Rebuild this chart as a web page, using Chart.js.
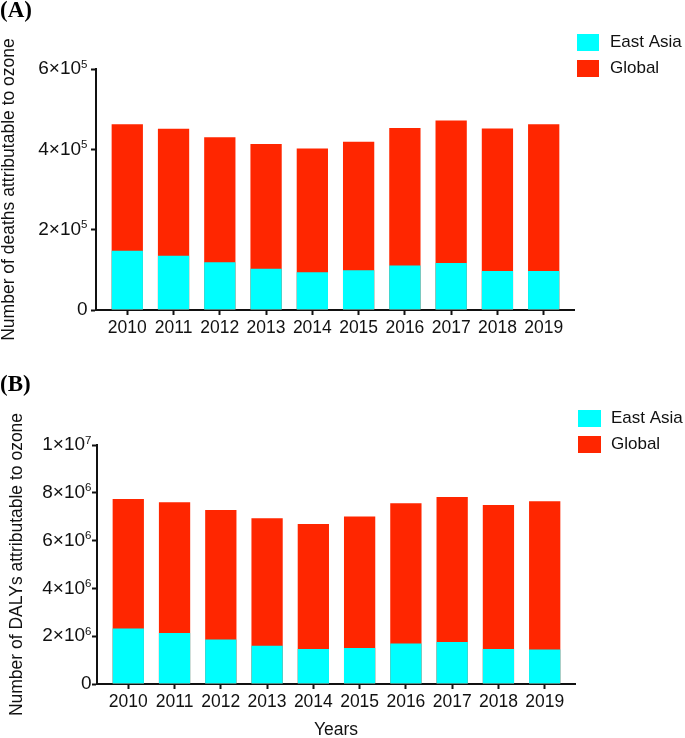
<!DOCTYPE html>
<html>
<head>
<meta charset="utf-8">
<script src="https://cdn.jsdelivr.net/npm/chart.js@4.4.1/dist/chart.umd.min.js"></script>
<style>
  html, body { margin: 0; padding: 0; background: #fff; }
  .panel { position: relative; width: 685px; height: 369px; }
</style>
</head>
<body>
<div class="panel"><canvas id="deathsChart"></canvas></div>
<div class="panel"><canvas id="dalysChart"></canvas></div>
<script>
// data
const years = [2010, 2011, 2012, 2013, 2014, 2015, 2016, 2017, 2018, 2019];
const seriesNames = ['East Asia', 'Global'];
const seriesColors = ['#00ffff', '#ff2600'];

const deathsEastAsia = [147500, 135000, 119000, 102500, 94000, 99000, 111000, 117000, 97000, 97000];
const deathsGlobal = [462500, 451000, 430000, 413000, 402000, 419000, 453000, 472000, 452000, 462500];
const deathsTicks = [0, 200000, 400000, 600000];

const dalysEastAsia = [2320000, 2130000, 1860000, 1600000, 1460000, 1510000, 1690000, 1760000, 1460000, 1440000];
const dalysGlobal = [7740000, 7600000, 7280000, 6940000, 6690000, 7010000, 7560000, 7820000, 7490000, 7650000];
const dalysTicks = [0, 2000000, 4000000, 6000000, 8000000, 10000000];

const FONT = "'Liberation Sans', Arial, Helvetica, sans-serif";
const INK = '#111';
Chart.defaults.font.family = FONT;
Chart.defaults.color = INK;

// 6e5 -> ['6×10', '5']
function sciParts(v) {
  if (v === 0) return ['0', ''];
  const exp = Math.floor(Math.log10(v) + 1e-9);
  const mant = Math.round(v / Math.pow(10, exp));
  return [mant + '\u00d710', String(exp)];
}

// y tick labels with a raised exponent, like the original
const sciTicks = {
  id: 'sciTicks',
  afterDraw(chart, args, opts) {
    const s = chart.scales.y;
    const ctx = chart.ctx;
    ctx.save();
    ctx.fillStyle = INK;
    ctx.textBaseline = 'middle';
    ctx.textAlign = 'right';
    s.ticks.forEach(t => {
      const y = s.getPixelForValue(t.value);
      const right = s.right - 5 - opts.pad;
      const [base, exp] = sciParts(t.value);
      let ew = 0;
      if (exp) {
        ctx.font = opts.expSize + 'px ' + FONT;
        ew = ctx.measureText(exp).width;
        ctx.fillText(exp, right, y - opts.raise);
      }
      ctx.font = opts.size + 'px ' + FONT;
      ctx.fillText(base, right - ew, y);
    });
    ctx.restore();
  }
};

// legend drawn in the top right corner, stacked like the original
const sideLegend = {
  id: 'sideLegend',
  afterDraw(chart, args, opts) {
    const ctx = chart.ctx;
    ctx.save();
    ctx.font = opts.fontSize + 'px ' + FONT;
    ctx.textBaseline = 'middle';
    ctx.textAlign = 'left';
    chart.data.datasets.forEach((ds, i) => {
      const y = opts.y + i * opts.spacing;
      ctx.fillStyle = ds.backgroundColor;
      ctx.fillRect(opts.x, y, opts.boxWidth, opts.boxHeight);
      ctx.fillStyle = INK;
      ctx.fillText(ds.label, opts.x + opts.boxWidth + opts.gap, y + opts.boxHeight / 2);
    });
    ctx.restore();
  }
};

function makeChart(id, p) {
  const axisLine = { display: true, width: 2, color: INK };
  const tickMarks = { display: true, offset: false, drawOnChartArea: false, drawTicks: true, tickLength: 5, tickWidth: 2, tickColor: INK };

  return new Chart(document.getElementById(id), {
    type: 'bar',
    data: {
      datasets: [
        { label: seriesNames[0], data: years.map((yr, i) => ({ x: yr, y: p.eastAsia[i] })), backgroundColor: seriesColors[0], order: 0 },
        { label: seriesNames[1], data: years.map((yr, i) => ({ x: yr, y: p.global[i] })), backgroundColor: seriesColors[1], order: 1 }
      ]
    },
    options: {
      responsive: true,
      maintainAspectRatio: false,
      animation: false,
      layout: { padding: { left: 0, right: p.padRight, top: 0, bottom: 0 } },
      datasets: { bar: { grouped: false, categoryPercentage: 1, barPercentage: 0.676, borderWidth: 0 } },
      scales: {
        x: {
          type: 'linear',
          offset: false,
          min: 2009.324,
          max: 2019.655,
          afterBuildTicks: s => { s.ticks = years.map(v => ({ value: v })); },
          afterFit: s => { s.height = p.xHeight; },
          grid: tickMarks,
          border: axisLine,
          ticks: { callback: v => String(v), font: { size: 17.5 }, padding: 3, maxRotation: 0, autoSkip: false },
          title: { display: p.xTitle !== '', text: p.xTitle, font: { size: 17.5, lineHeight: 0.85 }, padding: { top: 0, bottom: 0 } }
        },
        y: {
          min: 0,
          max: p.ticks[p.ticks.length - 1],
          afterBuildTicks: s => { s.ticks = p.ticks.map(v => ({ value: v })); },
          afterFit: s => { s.width = p.axisX; },
          grid: tickMarks,
          border: axisLine,
          ticks: { display: false },
          title: { display: true, text: p.yTitle, font: { size: 17.5, lineHeight: 1 }, padding: { top: p.yTitlePad, bottom: 0 } }
        }
      },
      plugins: {
        legend: { display: false },
        tooltip: { enabled: false },
        title: {
          display: true,
          text: p.panel,
          align: 'start',
          color: '#000',
          font: { family: "'Liberation Serif', 'Times New Roman', serif", size: 23, weight: 'bold', lineHeight: 1 },
          padding: { top: p.panelTop, bottom: p.plotTop - p.panelTop - 23 }
        },
        sciTicks: { size: 19, expSize: 11.5, raise: 4.5, pad: p.yTickPad },
        sideLegend: p.legend
      }
    },
    plugins: [sciTicks, sideLegend]
  });
}

makeChart('deathsChart', {
  panel: '(A)', panelTop: 0, plotTop: 69, xHeight: 59, axisX: 96, padRight: 111,
  eastAsia: deathsEastAsia, global: deathsGlobal, ticks: deathsTicks,
  yTitle: 'Number of deaths attributable to ozone', yTitlePad: 0.5, yTickPad: 3.5, xTitle: '',
  legend: { x: 577, y: 34, boxWidth: 22, boxHeight: 17, spacing: 26, gap: 11, fontSize: 17 }
});

makeChart('dalysChart', {
  panel: '(B)', panelTop: 4.5, plotTop: 76, xHeight: 54, axisX: 97, padRight: 110,
  eastAsia: dalysEastAsia, global: dalysGlobal, ticks: dalysTicks,
  yTitle: 'Number of DALYs attributable to ozone', yTitlePad: 8, yTickPad: 0.5, xTitle: 'Years',
  legend: { x: 578, y: 41, boxWidth: 23, boxHeight: 17, spacing: 26, gap: 10, fontSize: 17 }
});
</script>
</body>
</html>
